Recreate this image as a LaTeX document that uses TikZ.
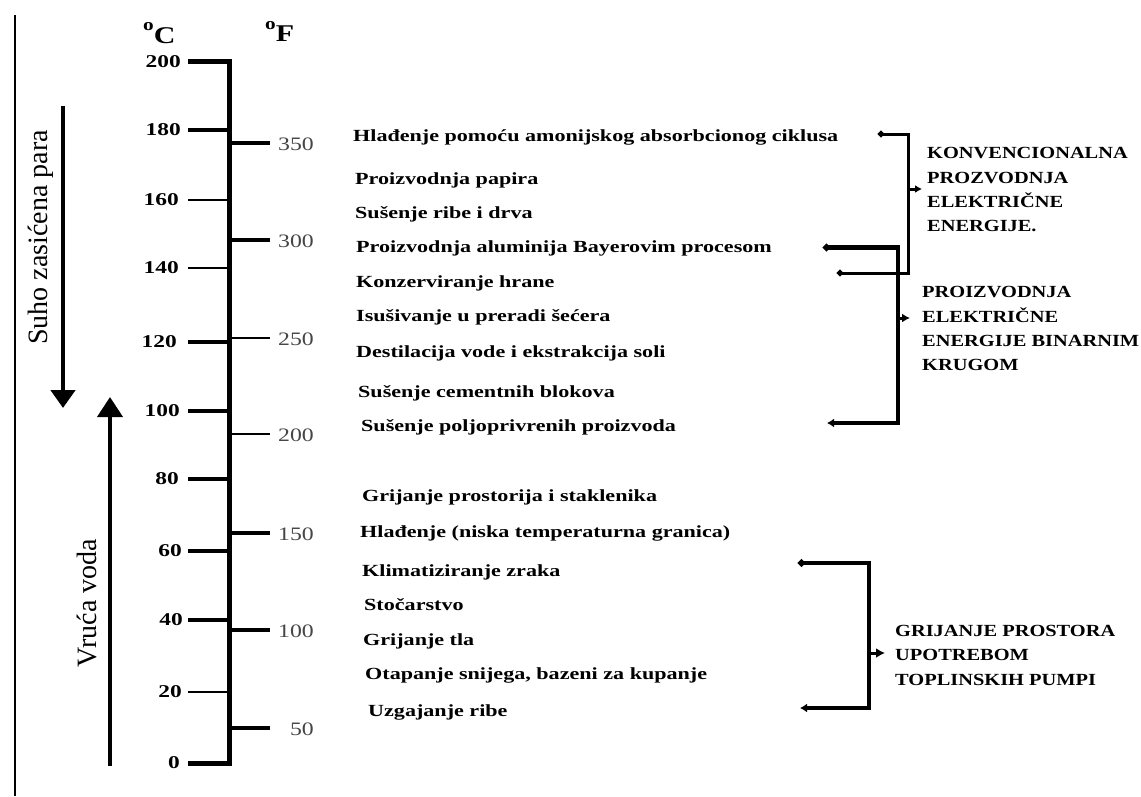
\documentclass[tikz,border=0pt]{standalone}
\usepackage{fontspec}
\setmainfont{Liberation Serif}
\newfontfamily\labfont[FakeStretch=1.3]{Liberation Serif}
\newfontfamily\capfont[FakeStretch=1.2]{Liberation Serif}
\newfontfamily\ffont[FakeStretch=1.25]{Liberation Serif}
\usetikzlibrary{arrows.meta}
\definecolor{fgray}{RGB}{70,70,70}
\begin{document}
\begin{tikzpicture}[x=1pt,y=-1pt,
  item/.style={anchor=base west, inner sep=0pt, font=\labfont\bfseries\fontsize{17}{20}\selectfont},
  clab/.style={anchor=east, inner sep=0pt, font=\labfont\bfseries\fontsize{18}{20}\selectfont},
  flab/.style={anchor=east, inner sep=0pt, text=fgray, font=\ffont\fontsize{19}{20}\selectfont},
  grp/.style={anchor=north west, inner sep=0pt, align=left, font=\capfont\bfseries\fontsize{17}{24.3}\selectfont},
  rotlab/.style={anchor=base, inner sep=0pt, rotate=90, font=\fontsize{28}{30}\selectfont},
  hdr/.style={anchor=base west, inner sep=0pt, font=\ffont\bfseries\fontsize{24}{26}\selectfont},
  tkthick/.style={line width=4.6pt},
  tkmid/.style={line width=3.5pt},
  tkthin/.style={line width=2pt},
  brk/.style={line join=miter}
]
\fill[white] (0,0) rectangle (1141,796);
\useasboundingbox (0,0) rectangle (1141,796);

% left border line
\draw[line width=2.5pt] (15,15) -- (15,796);

% headers
\node[hdr] (degc) at (143,43) {\raisebox{13pt}{\fontsize{17}{17}\selectfont o}C};
\node[hdr] (degf) at (265,41) {\raisebox{12pt}{\fontsize{17}{17}\selectfont o}F};

% main axis
\draw[line width=5pt] (229,59) -- (229,765.6);

% Celsius ticks
\draw[tkthick] (188,61.5) -- (229,61.5);
\draw[tkthick] (188,130) -- (229,130);
\draw[tkthin]  (188,199.5) -- (229,199.5);
\draw[tkthin]  (188,268) -- (229,268);
\draw[tkthick] (188,342) -- (229,342);
\draw[tkmid]   (188,411) -- (229,411);
\draw[tkthick] (188,479) -- (229,479);
\draw[tkthick] (188,551) -- (229,551);
\draw[tkthick] (188,620) -- (229,620);
\draw[tkthin]  (188,692) -- (229,692);
\draw[tkthick] (188,763.3) -- (229,763.3);

\node[clab] (c200) at (181,61.5) {200};
\node[clab] (c180) at (181,130) {180};
\node[clab] (c160) at (179,199.5) {160};
\node[clab] (c140) at (179,268) {140};
\node[clab] (c120) at (177,342) {120};
\node[clab] (c100) at (180,411) {100};
\node[clab] (c80)  at (179,479) {80};
\node[clab] (c60)  at (182,551) {60};
\node[clab] (c40)  at (183,620) {40};
\node[clab] (c20)  at (182,692) {20};
\node[clab] (c0)   at (180,763) {0};

% Fahrenheit ticks
\draw[tkthick] (229,143) -- (270,143);
\draw[tkthick] (229,240) -- (270,240);
\draw[tkthin]  (229,338) -- (270,338);
\draw[tkthin]  (229,434) -- (270,434);
\draw[tkthick] (229,533) -- (270,533);
\draw[tkthick] (229,630) -- (270,630);
\draw[tkthick] (229,728) -- (270,728);

\node[flab] (f350) at (314,144) {350};
\node[flab] (f300) at (314,241) {300};
\node[flab] (f250) at (314,339) {250};
\node[flab] (f200) at (314,435) {200};
\node[flab] (f150) at (314,534) {150};
\node[flab] (f100) at (314,631) {100};
\node[flab] (f50)  at (314,729) {50};

% side arrows
\coordinate (sa) at (63,106);
\coordinate (sb) at (63,408);
\draw[line width=4.5pt, -{Triangle[width=24pt,length=18pt]}] (sa) -- (sb);
\coordinate (va) at (110,766);
\coordinate (vb) at (110,397);
\draw[line width=4pt, -{Triangle[width=25pt,length=20pt]}] (va) -- (vb);
\node[rotlab] (suho) at (47,237.5) {Suho zasićena para};
\node[rotlab] (vruca) at (96.5,603) {Vruća voda};

% items
\node[item] (i1)  at (353,141) {Hlađenje pomoću amonijskog absorbcionog ciklusa};
\node[item] (i2)  at (355,184) {Proizvodnja papira};
\node[item] (i3)  at (355,218) {Sušenje ribe i drva};
\node[item] (i4)  at (356,252) {Proizvodnja aluminija Bayerovim procesom};
\node[item] (i5)  at (356,287) {Konzerviranje hrane};
\node[item] (i6)  at (356,321) {Isušivanje u preradi šećera};
\node[item] (i7)  at (356,357) {Destilacija vode i ekstrakcija soli};
\node[item] (i8)  at (358,397) {Sušenje cementnih blokova};
\node[item] (i9)  at (361,431) {Sušenje poljoprivrenih proizvoda};
\node[item] (i10) at (362,501) {Grijanje prostorija i staklenika};
\node[item] (i11) at (360,537) {Hlađenje (niska temperaturna granica)};
\node[item] (i12) at (362,576) {Klimatiziranje zraka};
\node[item] (i13) at (364,610) {Stočarstvo};
\node[item] (i14) at (363,645) {Grijanje tla};
\node[item] (i15) at (365,679) {Otapanje snijega, bazeni za kupanje};
\node[item] (i16) at (368,716) {Uzgajanje ribe};

% group labels
\node[grp] (g1) at (927,147.5) {KONVENCIONALNA\\PROZVODNJA\\ELEKTRIČNE\\ENERGIJE.};
\node[grp] (g2) at (922,286.5) {PROIZVODNJA\\ELEKTRIČNE\\ENERGIJE BINARNIM\\KRUGOM};
\node[grp] (g3) at (895,625) {GRIJANJE PROSTORA\\UPOTREBOM\\TOPLINSKIH PUMPI};

% bracket 1
\coordinate (b1a) at (878,134);
\coordinate (b1c) at (908,134);
\coordinate (b1d) at (908,273);
\coordinate (b1b) at (837,273);
\coordinate (b1m) at (908,189);
\coordinate (b1p) at (922,189);
\draw[brk, line width=3pt, {Circle[length=6pt]}-{Circle[length=6pt]}] (b1a) -- (b1c) -- (b1d) -- (b1b);
\draw[line width=3pt, -{Latex[length=7pt,width=8pt]}] (b1m) -- (b1p);

% bracket 2
\coordinate (b2a) at (823,247.5);
\coordinate (b2c) at (898,247.5);
\coordinate (b2d) at (898,423);
\coordinate (b2b) at (827,423);
\coordinate (b2m) at (898,318);
\coordinate (b2p) at (910,318);
\draw[brk, line width=4.5pt, {Circle[length=7pt]}-{Latex[length=7pt,width=9pt]}] (b2a) -- (b2c) -- (b2d) -- (b2b);
\draw[line width=3pt, -{Latex[length=8pt,width=9pt]}] (b2m) -- (b2p);

% bracket 3
\coordinate (b3a) at (798,563);
\coordinate (b3c) at (869,563);
\coordinate (b3d) at (869,708);
\coordinate (b3b) at (800,708);
\coordinate (b3m) at (869,653);
\coordinate (b3p) at (885,653);
\draw[brk, line width=4pt, {Circle[length=7pt]}-{Latex[length=7pt,width=9pt]}] (b3a) -- (b3c) -- (b3d) -- (b3b);
\draw[line width=3pt, -{Latex[length=9pt,width=10pt]}] (b3m) -- (b3p);
\end{tikzpicture}
\end{document}
